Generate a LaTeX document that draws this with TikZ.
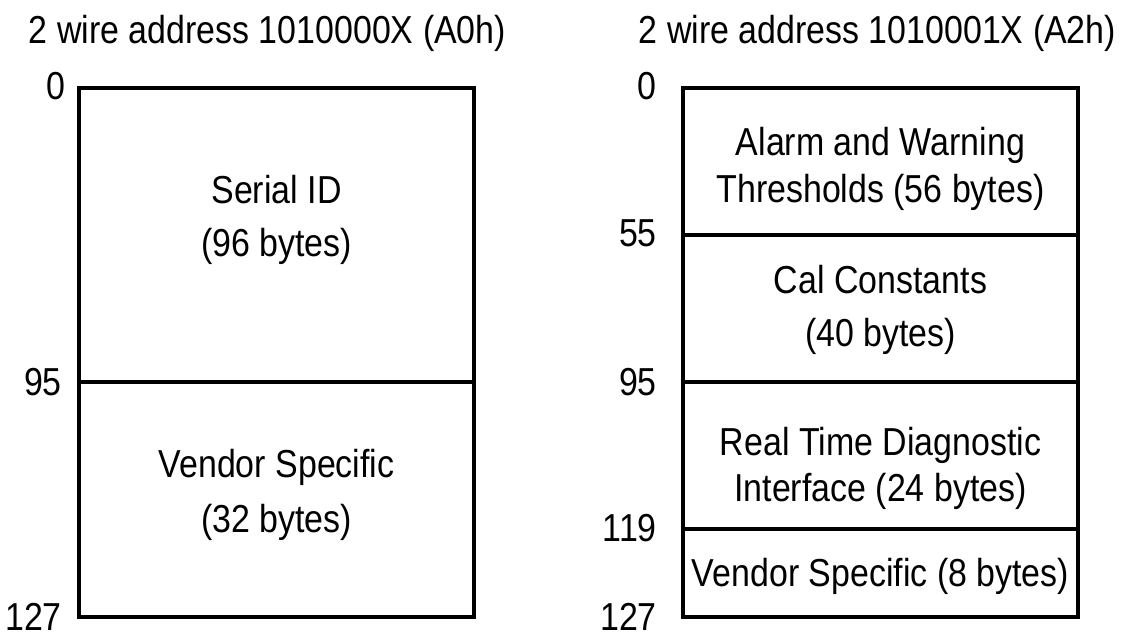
\documentclass[tikz,border=0pt]{standalone}
\usepackage{fontspec}
\setmainfont{Liberation Sans}[FakeStretch=0.87]
\begin{document}
\begin{tikzpicture}[x=1pt,y=-1pt,
  txt/.style={inner sep=0pt,anchor=base,font=\fontsize{39}{44}\selectfont},
  lbl/.style={inner sep=0pt,anchor=east,font=\fontsize{39}{44}\selectfont},
  frame/.style={line width=4pt,line join=miter},
  divider/.style={line width=4.5pt}]
\useasboundingbox (0,0) rectangle (1121,633);
% titles
\node[txt] (tA) at (267.5,43) {2 wire address 1010000X (A0h)};
\node[txt] (tB) at (877.5,43) {2 wire address 1010001X (A2h)};
% left map
\draw[frame] (79,88) rectangle (474,617);
\draw[frame] (79,382) -- (474,382);
\node[lbl] (la0) at (66,86) {0};
\node[lbl] (la95) at (62,382) {95};
\node[lbl] (la127) at (62,617) {127};
\node[txt] (s1a) at (276.5,203) {Serial ID};
\node[txt] (s1b) at (276.5,256) {(96 bytes)};
\node[txt] (s2a) at (276.5,477) {Vendor Specific};
\node[txt] (s2b) at (276.5,532) {(32 bytes)};
% right map
\draw[frame] (683,88) rectangle (1078,617);
\draw[divider] (683,235) -- (1078,235);
\draw[divider] (683,382) -- (1078,382);
\draw[divider] (683,529) -- (1078,529);
\node[lbl] (lb0) at (657,86) {0};
\node[lbl] (lb55) at (657,233) {55};
\node[lbl] (lb95) at (657,382) {95};
\node[lbl] (lb119) at (657,528) {119};
\node[lbl] (lb127) at (657,617) {127};
\node[txt] (r1a) at (880.5,155) {Alarm and Warning};
\node[txt] (r1b) at (880.5,202) {Thresholds (56 bytes)};
\node[txt] (r2a) at (880.5,293) {Cal Constants};
\node[txt] (r2b) at (880.5,346) {(40 bytes)};
\node[txt] (r3a) at (880.5,455) {Real Time Diagnostic};
\node[txt] (r3b) at (880.5,501) {Interface (24 bytes)};
\node[txt] (r4a) at (880.5,586) {Vendor Specific (8 bytes)};
\end{tikzpicture}
\end{document}
